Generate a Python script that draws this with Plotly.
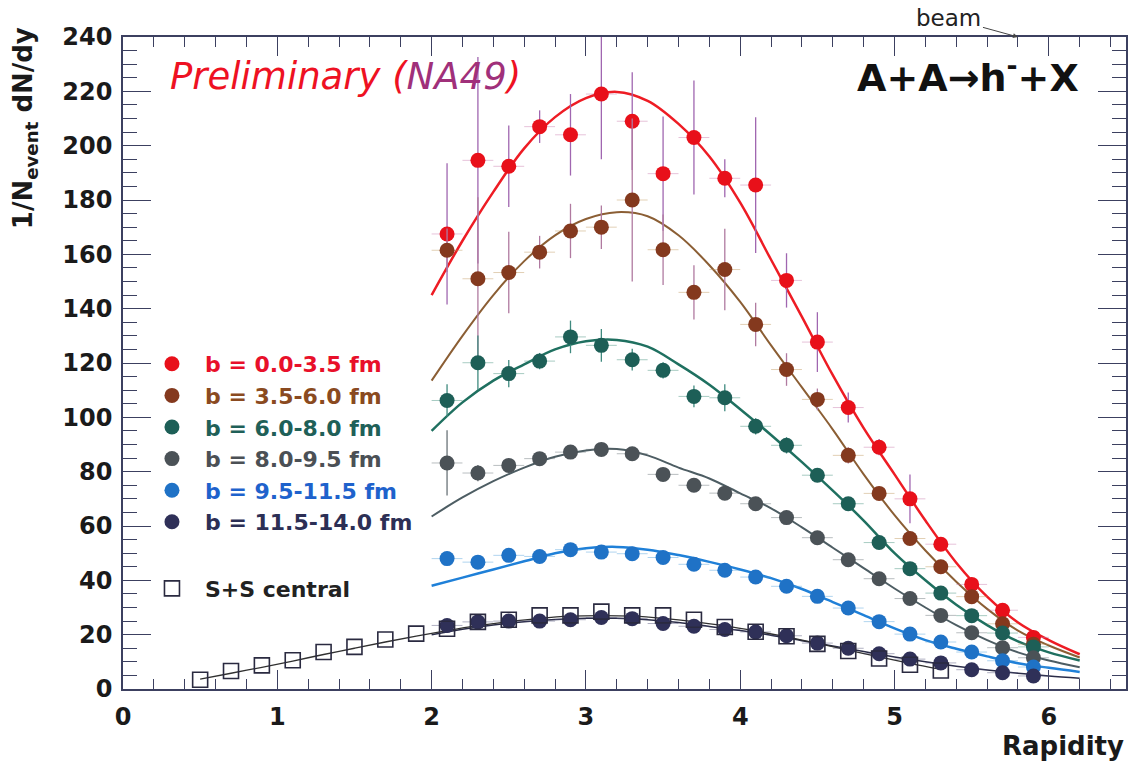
import plotly.graph_objects as go

# ---------------------------------------------------------------------------
# Negative hadron rapidity spectra, Pb+Pb in impact-parameter classes + S+S
# ---------------------------------------------------------------------------
rap_pb = [2.1, 2.3, 2.5, 2.7, 2.9, 3.1, 3.3, 3.5, 3.7, 3.9,
          4.1, 4.3, 4.5, 4.7, 4.9, 5.1, 5.3, 5.5, 5.7, 5.9]

dndy_b00_35 = [167.5, 194.6, 192.4, 207.0, 204.0, 219.0, 209.0, 189.7, 203.0, 188.0,
               185.5, 150.4, 127.7, 103.6, 89.0, 70.0, 53.3, 38.5, 29.0, 19.0]
err_b00_35 = [26, 38, 15, 6, 15, 24, 18, 21, 21, 7,
              25, 10, 11, 5.5, 3, 9, 2, 2, 2, 2]

dndy_b35_60 = [161.5, 151.0, 153.3, 160.8, 168.6, 170.0, 180.0, 161.7, 146.0, 154.4,
               134.2, 117.6, 106.6, 86.0, 72.0, 55.4, 45.0, 34.0, 24.0, 16.5]
err_b35_60 = [8, 30, 15, 6, 10, 8, 30, 13, 10, 15,
              8, 6, 4, 3, 2, 2, 2, 2, 2, 2]

dndy_b60_80 = [106.2, 120.1, 116.1, 120.7, 129.6, 126.5, 121.2, 117.3, 107.7, 107.2,
               96.7, 89.7, 78.7, 68.2, 53.9, 44.3, 35.3, 27.0, 20.6, 15.5]
err_b60_80 = [6, 10, 5, 3, 6, 6, 4, 3, 4, 5,
              3, 3, 2, 1.5, 1.5, 1.5, 1.5, 1.5, 1.5, 1.5]

dndy_b80_95 = [83.2, 79.5, 82.3, 84.8, 87.2, 88.2, 86.6, 79.0, 75.0, 72.1,
               68.2, 63.1, 55.7, 47.6, 40.6, 33.3, 27.1, 20.7, 15.2, 11.5]
err_b80_95 = [12, 3, 2, 2, 2, 2, 2, 2, 2, 2,
              2, 2, 1.5, 1.5, 1.5, 1, 1, 1, 1, 1]

dndy_b95_115 = [48.0, 46.7, 49.2, 48.8, 51.3, 50.4, 49.8, 48.4, 45.9, 43.7,
                41.2, 37.8, 34.1, 29.8, 24.8, 20.2, 17.3, 13.6, 10.4, 8.1]
err_b95_115 = [1.5, 1.5, 1.5, 1.5, 1.5, 1.5, 1.5, 1.5, 1.5, 1.5,
               1, 1, 1, 1, 1, 1, 1, 1, 1, 1]

dndy_b115_140 = [23.4, 24.7, 25.0, 25.0, 25.5, 26.3, 25.9, 24.1, 23.1, 21.9,
                 21.0, 19.6, 16.9, 15.0, 13.0, 11.0, 9.6, 7.1, 6.0, 4.8]
err_b115_140 = [1, 1, 1, 1, 1, 1, 1, 1, 1, 1,
                1, 1, 1, 1, 1, 1, 1, 1, 1, 1]

rap_ss = [0.5, 0.7, 0.9, 1.1, 1.3, 1.5, 1.7, 1.9, 2.1, 2.3, 2.5, 2.7, 2.9,
          3.1, 3.3, 3.5, 3.7, 3.9, 4.1, 4.3, 4.5, 4.7, 4.9, 5.1, 5.3]
dndy_ss = [3.4, 6.6, 8.7, 10.6, 13.6, 15.5, 18.2, 20.4, 22.2, 24.7, 25.5, 27.1, 27.1,
           28.5, 27.1, 27.1, 25.5, 22.8, 21.1, 19.4, 16.6, 14.0, 11.2, 8.9, 6.8]

# fitted curves
rap_fit = [2.0, 2.2, 2.4, 2.6, 2.8, 3.0, 3.2, 3.4, 3.6, 3.8, 4.0,
           4.2, 4.4, 4.6, 4.8, 5.0, 5.2, 5.4, 5.6, 5.8, 6.0, 6.2]
fit_b00_35 = [145, 165, 183, 199, 210.5, 217.5, 219.8, 216.5, 208, 196, 179,
              158, 137, 115.5, 96, 79, 62, 46.5, 34, 24.5, 18, 12.8]
fit_b35_60 = [113.5, 130, 145, 157.5, 167, 173, 175.5, 174, 167, 156, 142.5,
              126.5, 111, 95.5, 79, 64, 51, 39.5, 29.5, 21.5, 16, 11.6]
fit_b60_80 = [95, 105.5, 113.5, 119.5, 125, 128, 128.5, 126, 119.5, 112, 103,
              93.5, 83.5, 73, 62, 50, 40, 31, 23.5, 17.5, 13.5, 10.5]
fit_b80_95 = [63.5, 70.5, 76.5, 81.5, 85.5, 87.8, 88.3, 86, 81.5, 77.5, 72,
              66.5, 59.5, 52, 44.5, 37, 30, 23.5, 18, 13.5, 10.5, 8]
fit_b95_115 = [38, 41, 44, 47, 50, 51.8, 52.3, 51.3, 49.3, 46.8, 44,
               40.8, 36.8, 32, 27.2, 22.3, 18, 14.8, 12, 9.5, 7.8, 6.3]
fit_b115_140 = [20, 22, 23.6, 24.8, 25.6, 26, 26, 25.5, 24.5, 23, 21.5,
                19.8, 17.8, 15.8, 13.8, 11.8, 10, 8.4, 7, 5.8, 4.8, 4]

rap_fit_ss = [0.5, 0.7, 0.9, 1.1, 1.3, 1.5, 1.7, 1.9, 2.1, 2.3, 2.5, 2.7, 2.9,
              3.1, 3.3, 3.5, 3.7, 3.9, 4.1, 4.3, 4.5, 4.7, 4.9, 5.1, 5.3]
fit_ss = [3.6, 5.8, 8.0, 10.3, 12.7, 15.0, 17.3, 19.5, 21.5, 23.3, 24.8, 26.0, 26.8,
          27.0, 26.8, 26.0, 24.8, 23.2, 21.3, 19.2, 16.8, 14.3, 11.8, 9.4, 7.2]

y_ticks = [0, 20, 40, 60, 80, 100, 120, 140, 160, 180, 200, 220, 240]
x_ticks = [0, 1, 2, 3, 4, 5, 6]

FONT = "DejaVu Sans"
AXIS = "#3c4060"

series = [
    # label, values, errors, fit, marker colour, label colour, line colour, line width, error colour, x-error colour
    ("b = 0.0-3.5 fm", dndy_b00_35, err_b00_35, fit_b00_35,
     "#e8101a", "#e8102a", "#ee1c24", 2.5, "#a066b0", "rgba(200,120,170,0.45)"),
    ("b = 3.5-6.0 fm", dndy_b35_60, err_b35_60, fit_b35_60,
     "#84391e", "#8a4a20", "#8b5e34", 2.0, "#b07aa0", "rgba(190,150,90,0.45)"),
    ("b = 6.0-8.0 fm", dndy_b60_80, err_b60_80, fit_b60_80,
     "#1d5f57", "#1f6058", "#1f7060", 2.5, "#3f8a7f", "rgba(60,140,120,0.45)"),
    ("b = 8.0-9.5 fm", dndy_b80_95, err_b80_95, fit_b80_95,
     "#4b5257", "#4b5055", "#4d5d63", 2.0, "#6a7378", "rgba(100,110,115,0.45)"),
    ("b = 9.5-11.5 fm", dndy_b95_115, err_b95_115, fit_b95_115,
     "#1f72c6", "#1e62cc", "#1f80d8", 2.5, "#5aa6e0", "rgba(80,160,220,0.45)"),
    ("b = 11.5-14.0 fm", dndy_b115_140, err_b115_140, fit_b115_140,
     "#2f3058", "#2c2f55", "#2a2c48", 1.5, "#555a80", "rgba(80,80,120,0.45)"),
]

fig = go.Figure()

# fit curves underneath the data points
for label, vals, errs, fit, mcol, tcol, lcol, lw, ecol, excol in series:
    fig.add_trace(go.Scatter(
        x=rap_fit, y=fit, mode="lines", line=dict(color=lcol, width=lw, shape="spline"),
        showlegend=False, hoverinfo="skip"))
fig.add_trace(go.Scatter(
    x=rap_fit_ss, y=fit_ss, mode="lines", line=dict(color="#303030", width=1.3, shape="spline"),
    showlegend=False, hoverinfo="skip"))

# data points with statistical errors and bin widths
for label, vals, errs, fit, mcol, tcol, lcol, lw, ecol, excol in series:
    fig.add_trace(go.Scatter(
        x=rap_pb, y=vals, mode="markers",
        name=f'<span style="color:{tcol}">{label}</span>',
        legendgroup="pb",
        marker=dict(color=mcol, size=15, line=dict(width=0)),
        error_y=dict(type="data", array=errs, color=ecol, thickness=1.3, width=0),
        error_x=dict(type="constant", value=0.1, color=excol, thickness=1, width=0),
    ))

fig.add_trace(go.Scatter(
    x=rap_ss, y=dndy_ss, mode="markers",
    name='<span style="color:#222222">S+S central</span>',
    legendgroup="ss",
    marker=dict(symbol="square-open", color="#2a2a40", size=15, line=dict(width=1.6)),
))

fig.update_layout(
    width=1139, height=761,
    margin=dict(l=123, r=11, t=37, b=72, pad=0),
    paper_bgcolor="white", plot_bgcolor="white",
    font=dict(family=FONT, color="#1a1a1a"),
    showlegend=True,
    legend=dict(
        x=(139 - 123) / 1005, y=1 - (343 - 37) / 652,
        xanchor="left", yanchor="top",
        bgcolor="rgba(0,0,0,0)", borderwidth=0,
        font=dict(family=FONT, size=22, weight="bold"),
        itemwidth=56, tracegroupgap=35, traceorder="grouped",
    ),
)

fig.update_xaxes(
    range=[0, 6.5], tickvals=x_ticks, ticktext=[str(v) for v in x_ticks],
    ticks="inside", ticklen=19, tickwidth=1.3, tickcolor=AXIS,
    minor=dict(dtick=0.2, ticks="inside", ticklen=10, tickwidth=1, tickcolor=AXIS),
    showline=True, linecolor=AXIS, linewidth=1.5, mirror="allticks",
    showgrid=False, zeroline=False,
    tickfont=dict(family=FONT, size=24, color="#1a1a1a", weight="bold"),
    ticklabelstandoff=5,
)
fig.update_yaxes(
    range=[0, 240], tickvals=y_ticks, ticktext=[str(v) for v in y_ticks],
    ticks="inside", ticklen=28, tickwidth=1.3, tickcolor=AXIS,
    minor=dict(dtick=5, ticks="inside", ticklen=14, tickwidth=1, tickcolor=AXIS),
    showline=True, linecolor=AXIS, linewidth=1.5, mirror="allticks",
    showgrid=False, zeroline=False,
    tickfont=dict(family=FONT, size=24, color="#1a1a1a", weight="bold"),
    ticklabelstandoff=4,
)

annotations = [
    # axis titles
    dict(text="<b>1/N<sub>event</sub> dN/dy</b>", xref="paper", yref="paper",
         x=(25 - 123) / 1005, y=1 - (128 - 37) / 652, xanchor="center", yanchor="middle",
         textangle=-90, showarrow=False, font=dict(family=FONT, size=26, color="#1a1a1a")),
    dict(text="<b>Rapidity</b>", xref="paper", yref="paper",
         x=1.0, y=(689 - 746) / 652, xanchor="right", yanchor="middle",
         showarrow=False, font=dict(family=FONT, size=26, color="#1a1a1a")),
    # headers
    dict(text='<i>Preliminary (<span style="color:#a0307a">NA49</span>)</i>',
         xref="paper", yref="paper", x=(168 - 123) / 1005, y=1 - (77 - 37) / 652,
         xanchor="left", yanchor="middle", showarrow=False,
         font=dict(family=FONT, size=37, color="#ee1122")),
    dict(text="<b>A+A\u2192h<sup>-</sup>+X</b>", xref="paper", yref="paper",
         x=(970 - 123) / 1005, y=1 - (75 - 37) / 652,
         xanchor="center", yanchor="middle", showarrow=False,
         font=dict(family=FONT, size=38, color="#111111")),
    # beam rapidity marker
    dict(text="beam", x=5.8, y=240, xref="x", yref="y",
         ax=-69, ay=-19, showarrow=True, arrowhead=2, arrowsize=1, arrowwidth=1,
         arrowcolor="#444444", font=dict(family=FONT, size=23, color="#222222")),
]
fig.update_layout(annotations=annotations)

fig.write_html("out.html")
